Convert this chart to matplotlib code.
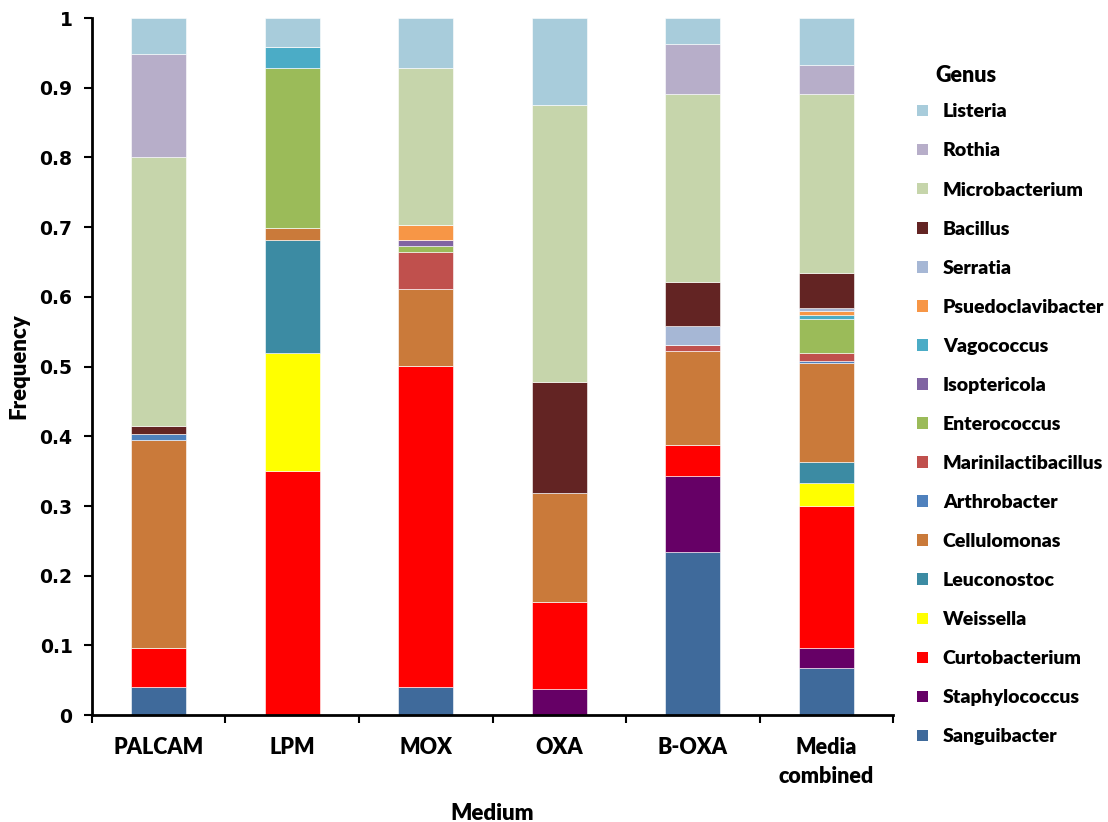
import matplotlib
matplotlib.use('Agg')
import matplotlib.pyplot as plt
from matplotlib.patches import Patch
import numpy as np

plt.rcParams['font.family'] = ['Lato', 'DejaVu Sans']

media = ['PALCAM', 'LPM', 'MOX', 'OXA', 'B-OXA', 'Media\ncombined']

# stacked from the bottom of each bar upwards
genera = ['Sanguibacter', 'Staphylococcus', 'Curtobacterium', 'Weissella', 'Leuconostoc',
          'Cellulomonas', 'Arthrobacter', 'Marinilactibacillus', 'Enterococcus', 'Isoptericola',
          'Vagococcus', 'Psuedoclavibacter', 'Serratia', 'Bacillus', 'Microbacterium',
          'Rothia', 'Listeria']

sanguibacter = [0.041, 0, 0.041, 0, 0.234, 0.067]
staphylococcus = [0, 0, 0, 0.037, 0.109, 0.030]
curtobacterium = [0.055, 0.350, 0.460, 0.126, 0.045, 0.203]
weissella = [0, 0.170, 0, 0, 0, 0.033]
leuconostoc = [0, 0.161, 0, 0, 0, 0.030]
cellulomonas = [0.299, 0.018, 0.111, 0.155, 0.134, 0.142]
arthrobacter = [0.009, 0, 0, 0, 0, 0.003]
marinilactibacillus = [0, 0, 0.052, 0, 0.009, 0.012]
enterococcus = [0, 0.230, 0.009, 0, 0, 0.048]
isoptericola = [0, 0, 0.009, 0, 0, 0]
vagococcus = [0, 0.029, 0, 0, 0, 0.006]
psuedoclavibacter = [0, 0, 0.021, 0, 0, 0.006]
serratia = [0, 0, 0, 0, 0.027, 0.004]
bacillus = [0.011, 0, 0, 0.160, 0.064, 0.050]
microbacterium = [0.385, 0, 0.226, 0.397, 0.269, 0.257]
rothia = [0.148, 0, 0, 0, 0.072, 0.042]
listeria = [0.052, 0.042, 0.071, 0.125, 0.037, 0.067]

values = [sanguibacter, staphylococcus, curtobacterium, weissella, leuconostoc,
          cellulomonas, arthrobacter, marinilactibacillus, enterococcus, isoptericola,
          vagococcus, psuedoclavibacter, serratia, bacillus, microbacterium,
          rothia, listeria]

colors = ['#3F6A9B', '#660066', '#FF0000', '#FFFF00', '#3C8BA3',
          '#CA7A3A', '#4F81BD', '#C0504D', '#9BBB59', '#8064A2',
          '#4BACC6', '#F79646', '#A6B7D5', '#632423', '#C6D5AB',
          '#B7AEC9', '#A8CCDB']

fig = plt.figure(figsize=(11.08, 8.22), dpi=100)
ax = fig.add_axes([0.083, 0.130, 0.723, 0.848])

x = np.arange(len(media))
bottom = np.zeros(len(media))
for name, vals, col in zip(genera, values, colors):
    vals = np.array(vals)
    ax.bar(x, vals, width=0.41, bottom=bottom, color=col,
           edgecolor='white', linewidth=0.4, label=name)
    bottom += vals

ax.set_xlim(-0.5, len(media) - 0.5)
ax.set_ylim(0, 1)
ax.set_yticks(np.arange(0, 1.01, 0.1))
ax.set_yticklabels(['0'] + ['%.1f' % v for v in np.arange(0.1, 0.95, 0.1)] + ['1'],
                   family='DejaVu Sans', fontweight='bold', fontsize=13.5)
ax.set_xticks(x)
ax.set_xticklabels(media, fontweight='heavy', fontsize=15.5, linespacing=1.45)
ax.set_xticks(np.arange(-0.5, len(media), 1), minor=True)
ax.tick_params(axis='x', which='major', length=0, pad=16)
ax.tick_params(axis='x', which='minor', length=6, width=1.5, direction='out')
ax.tick_params(axis='y', length=6, width=1.5, direction='out', pad=8)

for side in ['top', 'right']:
    ax.spines[side].set_visible(False)
for side in ['left', 'bottom']:
    ax.spines[side].set_linewidth(2)

ax.set_ylabel('Frequency', fontweight='heavy', fontsize=16, labelpad=7)
ax.set_xlabel('Medium', fontweight='heavy', fontsize=16, labelpad=11.5)

handles = [Patch(facecolor=c, edgecolor='none') for c in colors][::-1]
fig.legend(handles, genera[::-1], loc='upper left', bbox_to_anchor=(0.8205, 0.8837),
           frameon=False, handlelength=0.55, handleheight=0.55,
           handletextpad=0.78, labelspacing=1.135, borderaxespad=0,
           prop={'weight': 'heavy', 'size': 14})
fig.text(935 / 1108, 1 - 75 / 822, 'Genus', fontweight='heavy', fontsize=15.5,
         ha='left', va='center')

fig.savefig('out.png', dpi=100)
